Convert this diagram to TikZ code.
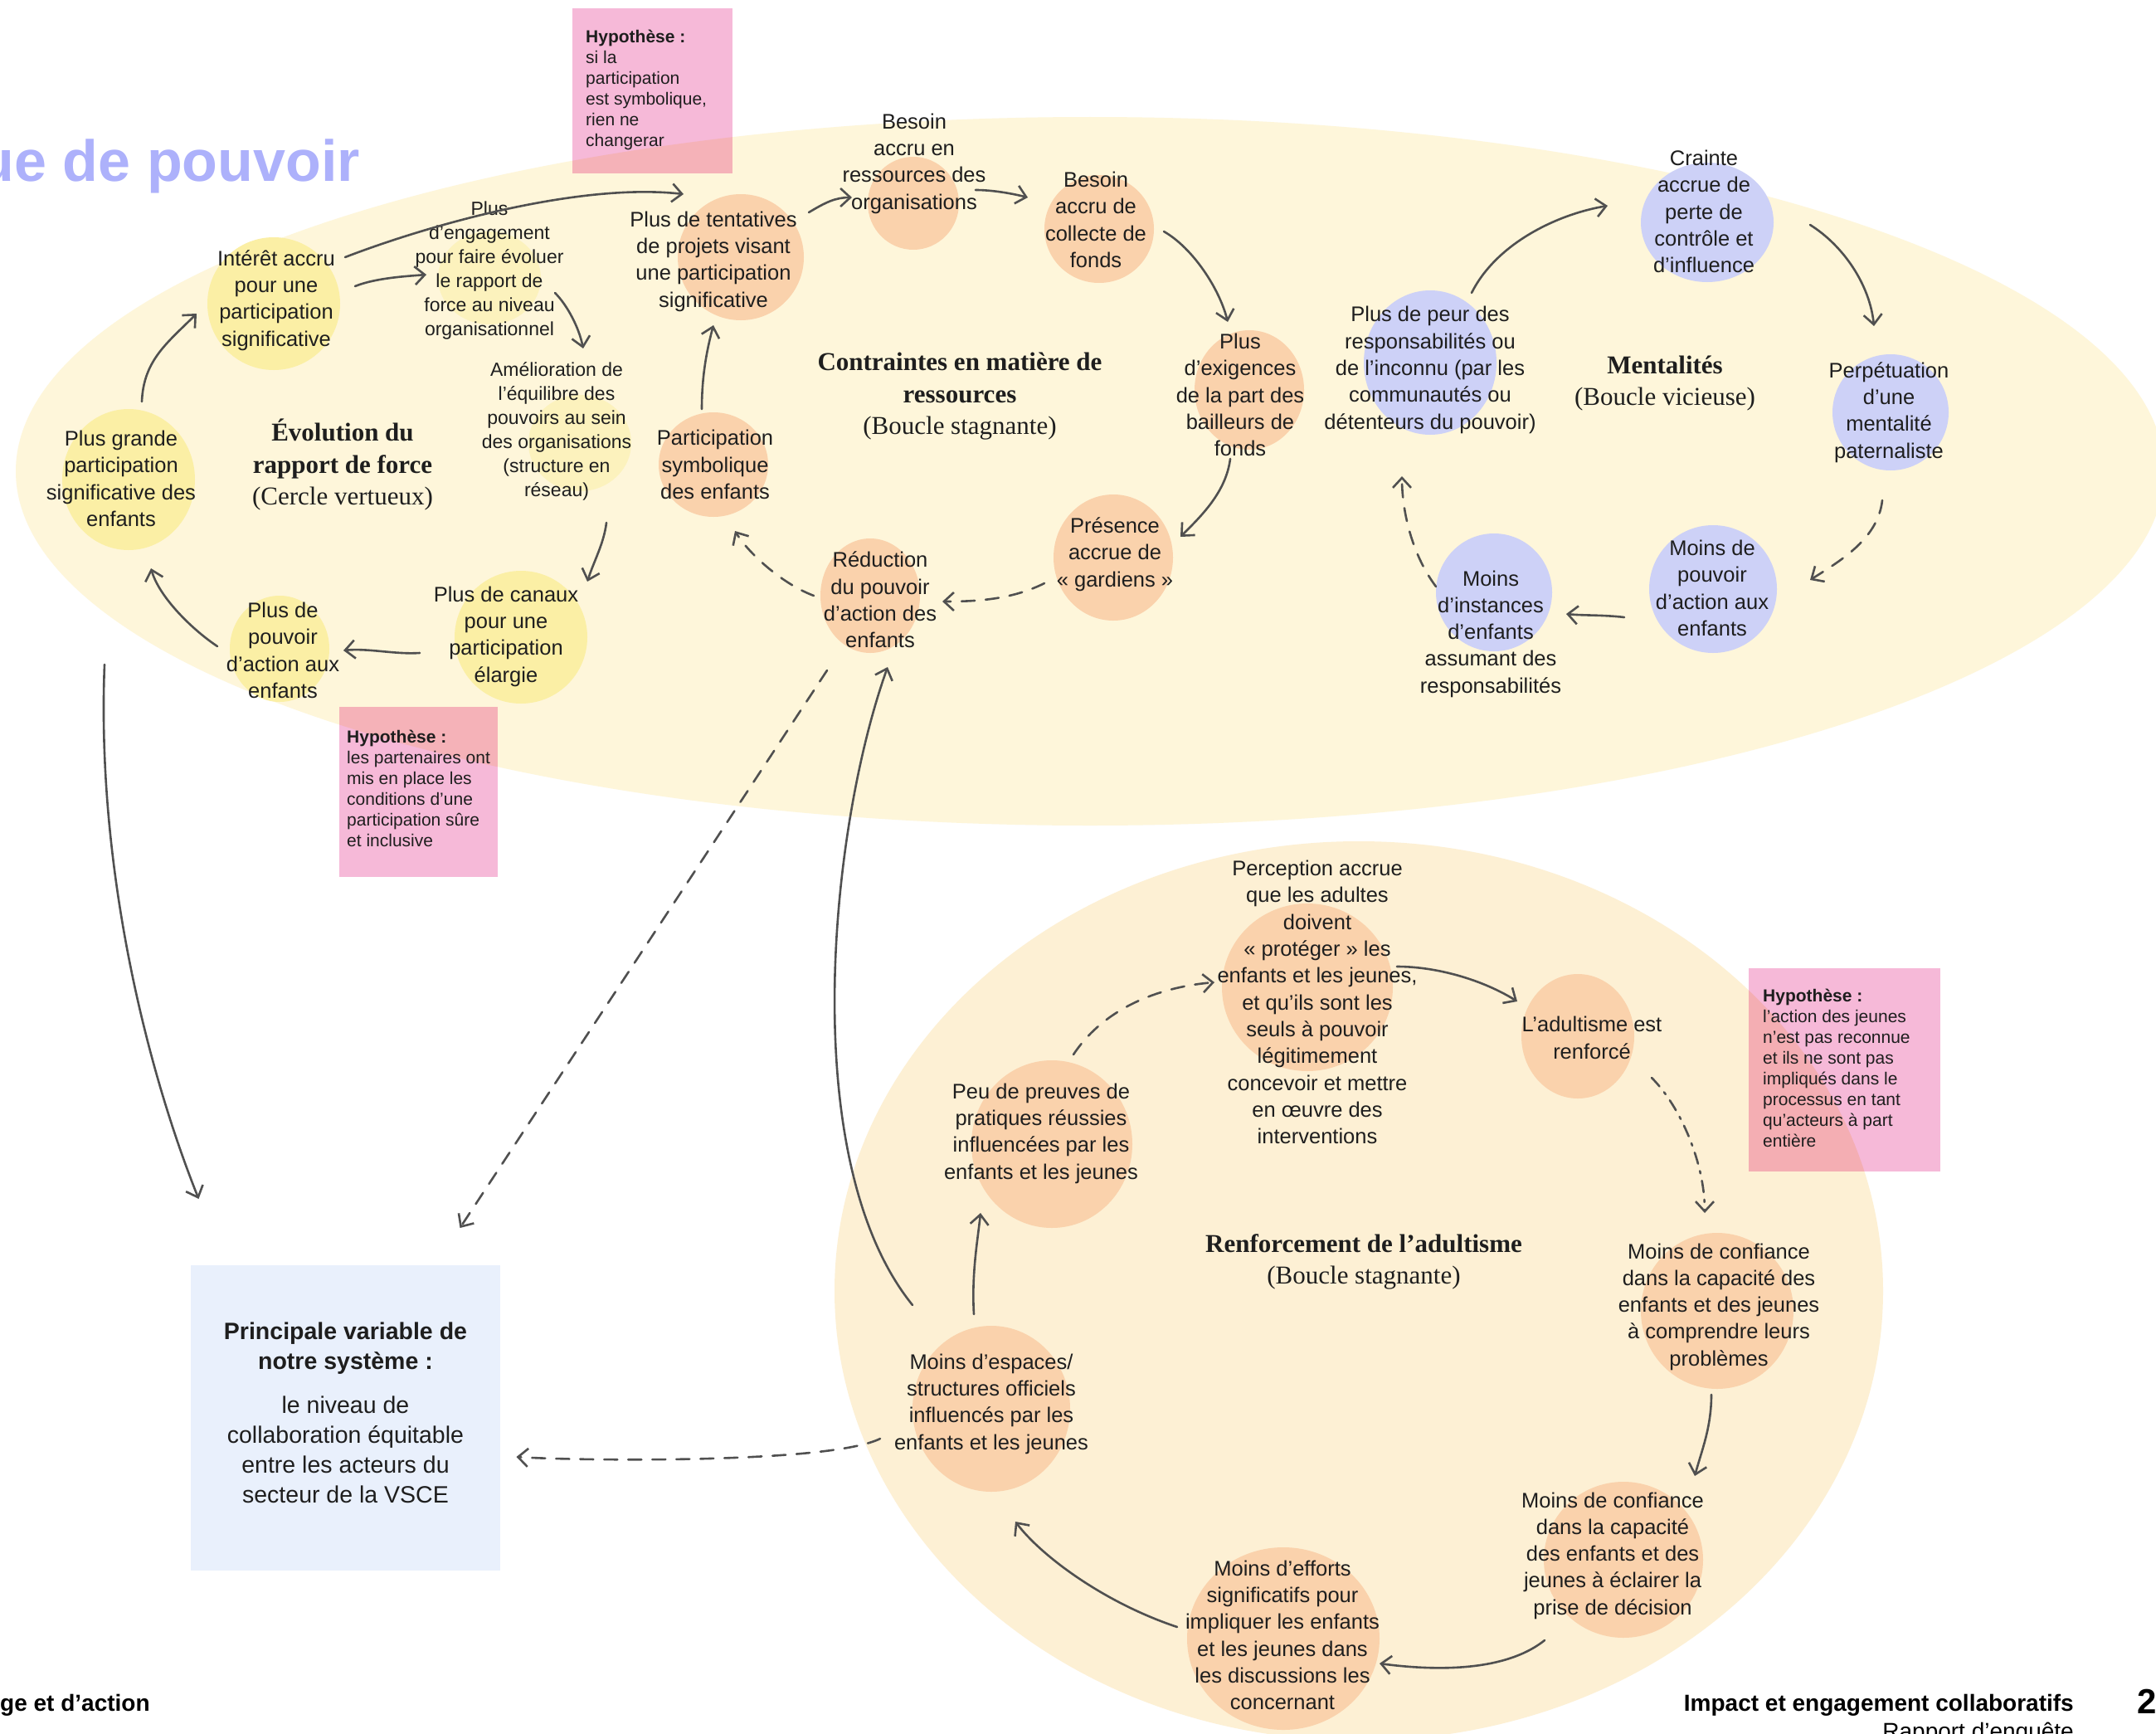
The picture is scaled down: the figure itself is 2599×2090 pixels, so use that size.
\documentclass[tikz,border=0pt]{standalone}
\usepackage{fontspec}
\setmainfont{Liberation Sans}
\newfontfamily\loopserif{Liberation Serif}
\usetikzlibrary{arrows.meta}

\definecolor{bandcream}{HTML}{FEF6DA}
\definecolor{roundcream}{HTML}{FDF0D4}
\definecolor{blobyellow}{HTML}{FBEFA5}
\definecolor{bloborange}{HTML}{FAD2AC}
\definecolor{bloblilac}{HTML}{CDD1F7}
\definecolor{notepink}{HTML}{F6B9D8}
\definecolor{keyblue}{HTML}{E9F0FC}
\definecolor{inkgray}{HTML}{505050}
\definecolor{headviolet}{HTML}{ADB1FB}
\definecolor{textink}{HTML}{1E1E1E}

\begin{document}
\begin{tikzpicture}[x=1pt,y=-1pt,
  lbl/.style={align=center,inner sep=0pt,text=textink,font=\fontsize{25.5}{32.3}\selectfont},
  lblsmall/.style={lbl,font=\fontsize{23}{29}\selectfont},
  looptitle/.style={align=center,inner sep=0pt,text=textink,font=\loopserif\fontsize{31}{38.5}\selectfont},
  notetext/.style={align=left,inner sep=0pt,anchor=north west,text=textink,font=\fontsize{21}{25}\selectfont},
  flow/.style={draw=inkgray,line width=2.6pt,line cap=round,
    -{Straight Barb[length=12pt,width=22pt,line width=2.6pt]}},
  dashflow/.style={flow,dash pattern=on 16pt off 13pt},
  dotflow/.style={flow,dash pattern=on 14pt off 9pt on 3pt off 9pt},
  yblob/.style={fill=blobyellow},
  oblob/.style={fill=bloborange},
  lblob/.style={fill=bloblilac}]

\useasboundingbox (0,0) rectangle (2599,2090);
\fill[white] (0,0) rectangle (2599,2090);

% the two large loop backgrounds
\fill[bandcream] (1314,568) ellipse [x radius=1295pt,y radius=427pt];
\fill[roundcream] (1638,1556) ellipse [x radius=632pt,y radius=542pt];

% key variable box
\fill[keyblue] (230,1525) rectangle (603,1893);

% hypothesis notes, tinted by what lies beneath
\begin{scope}[blend mode=multiply]
  \fill[notepink] (690,10) rectangle (883,209);
  \fill[notepink] (409,852) rectangle (600,1057);
  \fill[notepink] (2108,1167) rectangle (2339,1412);
\end{scope}

% yellow loop
\fill[yblob] (330,366) ellipse [x radius=80pt,y radius=80pt];
\fill[blobyellow!55!bandcream] (590,335) ellipse [x radius=62pt,y radius=56pt];
\fill[blobyellow!55!bandcream] (699,534) ellipse [x radius=62pt,y radius=58pt];
\fill[yblob] (628,768) ellipse [x radius=80pt,y radius=80pt];
\fill[yblob] (337,782) ellipse [x radius=60pt,y radius=64pt];
\fill[yblob] (155,578) ellipse [x radius=80pt,y radius=85pt];
% orange loop (resources)
\fill[oblob] (893,310) ellipse [x radius=76pt,y radius=76pt];
\fill[oblob] (1101,245) ellipse [x radius=55pt,y radius=56pt];
\fill[oblob] (1325,276) ellipse [x radius=66pt,y radius=65pt];
\fill[oblob] (1506,470) ellipse [x radius=66pt,y radius=72pt];
\fill[oblob] (1342,672) ellipse [x radius=72pt,y radius=76pt];
\fill[oblob] (1049,718) ellipse [x radius=60pt,y radius=69pt];
\fill[oblob] (860,560) ellipse [x radius=66pt,y radius=63pt];
% lilac loop (mentalities)
\fill[lblob] (2058,268) ellipse [x radius=80pt,y radius=72pt];
\fill[lblob] (2279,497) ellipse [x radius=70pt,y radius=70pt];
\fill[lblob] (2065,710) ellipse [x radius=77pt,y radius=77pt];
\fill[lblob] (1801,714) ellipse [x radius=70pt,y radius=71pt];
\fill[lblob] (1724,437) ellipse [x radius=80pt,y radius=87pt];
% orange loop (adultism)
\fill[oblob] (1576,1190) ellipse [x radius=103pt,y radius=101pt];
\fill[oblob] (1902,1249) ellipse [x radius=68pt,y radius=75pt];
\fill[oblob] (2070,1580) ellipse [x radius=92pt,y radius=94pt];
\fill[oblob] (1957,1880) ellipse [x radius=96pt,y radius=94pt];
\fill[oblob] (1547,1975) ellipse [x radius=116pt,y radius=110pt];
\fill[oblob] (1195,1698) ellipse [x radius=95pt,y radius=100pt];
\fill[oblob] (1268,1379) ellipse [x radius=97pt,y radius=101pt];

% heading, footer
\node[anchor=base east,inner sep=0pt,text=headviolet,font=\bfseries\fontsize{70}{76}\selectfont] (heading) at (434,218) {ue de pouvoir};
\node[anchor=base west,inner sep=0pt,font=\bfseries\fontsize{28}{32}\selectfont] (footleft) at (0,2062) {ge et d’action};
\node[anchor=base east,inner sep=0pt,font=\bfseries\fontsize{28}{32}\selectfont] (footright) at (2500,2062) {Impact et engagement collaboratifs};
\node[anchor=base east,inner sep=0pt,font=\fontsize{28}{32}\selectfont] (footsub) at (2500,2096) {Rapport d’enquête};
\node[anchor=base west,inner sep=0pt,font=\bfseries\fontsize{42}{46}\selectfont] (pagenum) at (2576,2065) {2};

% hypothesis texts
\node[notetext] (h1) at (706,36) {\textbf{Hypothèse :}\\si la\\participation\\est symbolique,\\rien ne\\changerar};
\node[notetext] (h2) at (418,880) {\textbf{Hypothèse :}\\les partenaires ont\\mis en place les\\conditions d’une\\participation sûre\\et inclusive};
\node[notetext] (h3) at (2125,1192) {\textbf{Hypothèse :}\\l’action des jeunes\\n’est pas reconnue\\et ils ne sont pas\\impliqués dans le\\processus en tant\\qu’acteurs à part\\entière};

% key variable
\node[align=center,inner sep=0pt,text=textink,font=\fontsize{28.5}{36}\selectfont] (key) at (416.5,1703)
  {\textbf{Principale variable de}\\\textbf{notre système :}\\[17pt]
   le niveau de\\collaboration équitable\\entre les acteurs du\\secteur de la VSCE};

% loop titles
\node[looptitle] (ta) at (413,560) {\textbf{Évolution du}\\\textbf{rapport de force}\\(Cercle vertueux)};
\node[looptitle] (tb) at (1157,478) {\textbf{Contraintes en matière de}\\\textbf{ressources}\\(Boucle stagnante)};
\node[looptitle] (tc) at (2007,462) {\textbf{Mentalités}\\(Boucle vicieuse)};
\node[looptitle] (td) at (1644,1521) {\textbf{Renforcement de l’adultisme}\\(Boucle stagnante)};

% loop: power balance
\node[lbl] (a1) at (333,362) {Intérêt accru\\pour une\\participation\\significative};
\node[lblsmall] (a2) at (590,326) {Plus\\d’engagement\\pour faire évoluer\\le rapport de\\force au niveau\\organisationnel};
\node[lblsmall] (a3) at (671,520) {Amélioration de\\l’équilibre des\\pouvoirs au sein\\des organisations\\(structure en\\réseau)};
\node[lbl] (a4) at (610,767) {Plus de canaux\\pour une\\participation\\élargie};
\node[lbl] (a5) at (341,784) {Plus de\\pouvoir\\d’action aux\\enfants};
\node[lbl] (a6) at (146,577) {Plus grande\\participation\\significative des\\enfants};

% loop: resources
\node[lbl] (b1) at (860,315) {Plus de tentatives\\de projets visant\\une participation\\significative};
\node[lbl] (b2) at (1102,197) {Besoin\\accru en\\ressources des\\organisations};
\node[lbl] (b3) at (1321,265) {Besoin\\accru de\\collecte de\\fonds};
\node[lbl] (b4) at (1495,476) {Plus\\d’exigences\\de la part des\\bailleurs de\\fonds};
\node[lbl] (b5) at (1344,668) {Présence\\accrue de\\«~gardiens~»};
\node[lbl] (b6) at (1061,723) {Réduction\\du pouvoir\\d’action des\\enfants};
\node[lbl] (b7) at (862,560) {Participation\\symbolique\\des enfants};

% loop: mentalities
\node[lbl] (c1) at (2054,255) {Crainte\\accrue de\\perte de\\contrôle et\\d’influence};
\node[lbl] (c2) at (2277,497) {Perpétuation\\d’une\\mentalité\\paternaliste};
\node[lbl] (c3) at (2064,709) {Moins de\\pouvoir\\d’action aux\\enfants};
\node[lbl] (c4) at (1797,764) {Moins\\d’instances\\d’enfants\\assumant des\\responsabilités};
\node[lbl] (c5) at (1724,446) {Plus de peur des\\responsabilités ou\\de l’inconnu (par les\\communautés ou\\détenteurs du pouvoir)};

% loop: adultism
\node[lbl] (d1) at (1588,1208) {Perception accrue\\que les adultes\\doivent\\«~protéger~» les\\enfants et les jeunes,\\et qu’ils sont les\\seuls à pouvoir\\légitimement\\concevoir et mettre\\en œuvre des\\interventions};
\node[lbl] (d2) at (1919,1251) {L’adultisme est\\renforcé};
\node[lbl] (d3) at (2072,1575) {Moins de confiance\\dans la capacité des\\enfants et des jeunes\\à comprendre leurs\\problèmes};
\node[lbl] (d4) at (1944,1875) {Moins de confiance\\dans la capacité\\des enfants et des\\jeunes à éclairer la\\prise de décision};
\node[lbl] (d5) at (1546,1971) {Moins d’efforts\\significatifs pour\\impliquer les enfants\\et les jeunes dans\\les discussions les\\concernant};
\node[lbl] (d6) at (1195,1692) {Moins d’espaces/\\structures officiels\\influencés par les\\enfants et les jeunes};
\node[lbl] (d7) at (1255,1366) {Peu de preuves de\\pratiques réussies\\influencées par les\\enfants et les jeunes};

% connectors: power balance loop
\draw[flow] ([shift={(25,-93)}]a6.center) .. controls +(2,-50) and +(-35,35) .. ([shift={(-96,16)}]a1.center);
\draw[flow] ([shift={(95,-17)}]a1.center) .. controls +(25,-10) and +(-25,2) .. ([shift={(-76,5)}]a2.center);
\draw[flow] ([shift={(83,-52)}]a1.center) .. controls +(104,-40) and +(-124,-14) .. ([shift={(-36,-81)}]b1.center);
\draw[flow] ([shift={(79,27)}]a2.center) .. controls +(15,15) and +(-5,-25) .. ([shift={(32,-100)}]a3.center);
\draw[flow] ([shift={(60,110)}]a3.center) .. controls +(-3,25) and +(8,-25) .. ([shift={(98,-66)}]a4.center);
\draw[flow] ([shift={(-104,20)}]a4.center) .. controls +(-30,2) and +(30,-3) .. ([shift={(73,0)}]a5.center);
\draw[flow] ([shift={(-79,-5)}]a5.center) .. controls +(-30,-20) and +(10,35) .. ([shift={(36,108)}]a6.center);

% connectors: resources loop
\draw[flow] ([shift={(115,-59)}]b1.center) .. controls +(20,-12) and +(-20,0) .. ([shift={(-75,41)}]b2.center);
\draw[flow] ([shift={(74,32)}]b2.center) .. controls +(20,0) and +(-20,-5) .. ([shift={(-82,-27)}]b3.center);
\draw[flow] ([shift={(82,14)}]b3.center) .. controls +(35,20) and +(-10,-40) .. ([shift={(-15,-88)}]b4.center);
\draw[flow] ([shift={(-12,77)}]b4.center) .. controls +(-5,40) and +(25,-25) .. ([shift={(79,-21)}]b5.center);
\draw[dashflow] ([shift={(-85,35)}]b5.center) .. controls +(-40,20) and +(40,0) .. ([shift={(75,2)}]b6.center);
\draw[dashflow] ([shift={(-80,-5)}]b6.center) .. controls +(-40,-15) and +(15,25) .. ([shift={(24,80)}]b7.center);
\draw[flow] ([shift={(-16,-67)}]b7.center) .. controls +(0,-40) and +(-8,30) .. ([shift={(0,77)}]b1.center);

% connectors: mentalities loop
\draw[flow] ([shift={(50,-93)}]c5.center) .. controls +(30,-60) and +(-60,10) .. ([shift={(-116,-7)}]c1.center);
\draw[flow] ([shift={(128,16)}]c1.center) .. controls +(40,25) and +(-5,-50) .. ([shift={(-18,-104)}]c2.center);
\draw[dashflow] ([shift={(-8,106)}]c2.center) .. controls +(-5,45) and +(40,-25) .. ([shift={(118,-10)}]c3.center);
\draw[flow] ([shift={(-106,35)}]c3.center) .. controls +(-25,-3) and +(20,2) .. ([shift={(91,-24)}]c4.center);
\draw[dashflow] ([shift={(-66,-57)}]c4.center) .. controls +(-30,-40) and +(0,40) .. ([shift={(-34,128)}]c5.center);

% connectors: adultism loop
\draw[flow] ([shift={(96,-43)}]d1.center) .. controls +(50,0) and +(-40,-25) .. ([shift={(-90,-44)}]d2.center);
\draw[dotflow] ([shift={(72,48)}]d2.center) .. controls +(35,35) and +(0,-60) .. ([shift={(-17,-113)}]d3.center);
\draw[flow] ([shift={(-9,106)}]d3.center) .. controls +(0,40) and +(8,-30) .. ([shift={(99,-96)}]d4.center);
\draw[flow] ([shift={(-82,102)}]d4.center) .. controls +(-50,40) and +(60,8) .. ([shift={(117,34)}]d5.center);
\draw[flow] ([shift={(-127,-10)}]d5.center) .. controls +(-90,-30) and +(30,40) .. ([shift={(29,142)}]d6.center);
\draw[flow] ([shift={(-21,-108)}]d6.center) .. controls +(-3,-50) and +(-3,30) .. ([shift={(-73,96)}]d7.center);
\draw[dashflow] ([shift={(39,-95)}]d7.center) .. controls +(40,-60) and +(-60,5) .. ([shift={(-124,-24)}]d1.center);

% connectors between loops and towards the key variable
\draw[flow] ([shift={(-215,17)}]a5.center) .. controls +(-10,250) and +(-60,-150) .. ([shift={(-177,-258)}]key.center);
\draw[dashflow] ([shift={(-64,85)}]b6.center) -- ([shift={(138,-223)}]key.center);
\draw[flow] ([shift={(-95,-119)}]d6.center) .. controls +(-140,-173) and +(-70,196) .. ([shift={(9,81)}]b6.center);
\draw[dashflow] ([shift={(-134,42)}]d6.center) .. controls +(-60,30) and +(80,5) .. ([shift={(206,53)}]key.center);

\end{tikzpicture}
\end{document}
